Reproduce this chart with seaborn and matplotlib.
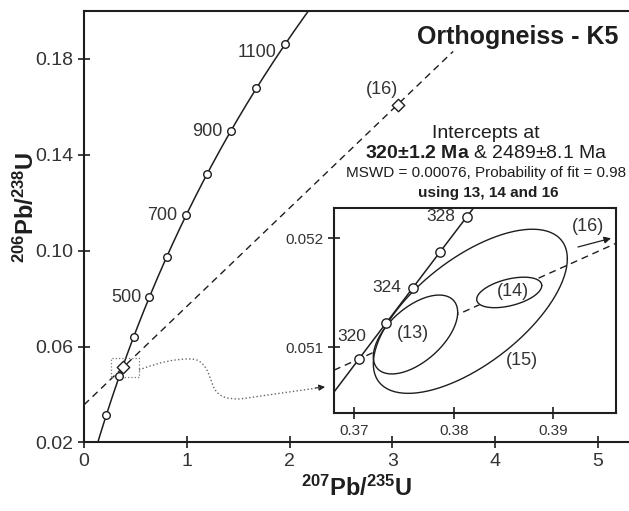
import numpy as np
import matplotlib
matplotlib.use("Agg")
import matplotlib.pyplot as plt
import seaborn as sns
from matplotlib.path import Path
from matplotlib.patches import PathPatch, Rectangle

# decay constants (1/yr)
L238 = 1.55125e-10
L235 = 9.8485e-10

# concordia age marks (Ma)
main_ages = [200, 300, 400, 500, 600, 700, 800, 900, 1000, 1100]
main_labels = [500, 700, 900, 1100]
inset_ages = [320, 322, 324, 326, 328]
inset_labels = [320, 324, 328]

# intercepts (Ma)
lower_int = 320
upper_int = 2489

# analyses: x(207/235), y(206/238), half-width x, half-height y, rho
ell_names = ["(13)", "(14)", "(15)"]
ell_cx = [0.37615, 0.38557, 0.38166]
ell_cy = [0.051117, 0.051503, 0.05133]
ell_hx = [0.00424, 0.00327, 0.00975]
ell_hy = [0.000362, 0.000140, 0.000753]
ell_rho = [0.56, 0.45, 0.64]
ell_fill = [True, True, False]

spot16 = (3.054, 0.1609)


def conc(t_ma):
    t = np.asarray(t_ma, dtype=float) * 1e6
    return np.exp(L235 * t) - 1, np.exp(L238 * t) - 1


def ellipse(cx, cy, hx, hy, rho, n=200):
    a = np.linspace(0, 2 * np.pi, n)
    x = cx + hx * np.cos(a)
    y = cy + hy * (rho * np.cos(a) + np.sqrt(1 - rho ** 2) * np.sin(a))
    return x, y


sns.set_theme(style="ticks")
plt.rcParams["font.family"] = ["Liberation Sans", "DejaVu Sans"]
plt.rcParams["mathtext.fontset"] = "custom"
plt.rcParams["mathtext.rm"] = "Liberation Sans"
plt.rcParams["mathtext.bf"] = "Liberation Sans:bold"
plt.rcParams["mathtext.it"] = "Liberation Sans:italic"

ink = "#1e1e1e"
W, H = 629, 511
fig = plt.figure(figsize=(W / 100, H / 100), dpi=100)

# ---------------- main axes
ax = fig.add_axes([84 / W, 1 - 442.4 / H, 545 / W, 431.4 / H])
ax.set_xlim(0, 5.30)
ax.set_ylim(0.02, 0.20)
ax.set_xticks([0, 1, 2, 3, 4, 5])
ax.set_yticks([0.02, 0.06, 0.10, 0.14, 0.18])
ax.set_yticklabels(["0.02", "0.06", "0.10", "0.14", "0.18"])
ax.tick_params(direction="inout", length=9, width=1.2, colors=ink,
               labelsize=14, labelcolor="#333333", pad=3)
for s in ["left", "bottom", "top"]:
    ax.spines[s].set_linewidth(1.5)
    ax.spines[s].set_color(ink)
ax.spines["right"].set_visible(False)

cx_all, cy_all = conc(np.linspace(100, 1300, 400))
sns.lineplot(x=cx_all, y=cy_all, ax=ax, sort=False, estimator=None,
             color=ink, lw=1.1, zorder=3)
mx, my = conc(main_ages)
sns.scatterplot(x=mx, y=my, ax=ax, s=30, color="white", edgecolor=ink,
                linewidth=1.0, zorder=5)
for age in main_labels:
    px, py = conc(age)
    dy = -6 if age == 1100 else 0
    ax.annotate(str(age), (px, py), xytext=(-6, dy), textcoords="offset points",
                ha="right", va="center", fontsize=13, color="#333333")

# discordia
x0, y0 = conc(lower_int)
x1, y1 = conc(upper_int)
slope = (y1 - y0) / (x1 - x0)
dx = np.array([0.0, 3.59])
ax.plot(dx, y0 + slope * (dx - x0), color=ink, lw=1.0, ls=(0, (5, 3.5)), zorder=2)

ax.scatter([spot16[0]], [spot16[1]], marker="D", s=40, facecolor="white",
           edgecolor=ink, linewidth=1.0, zorder=6)
ax.text(2.896, 0.1671, "(16)", fontsize=13, ha="center", va="center", color="#333333")
ax.scatter([ell_cx[2]], [ell_cy[2]], marker="D", s=40, facecolor="white",
           edgecolor=ink, linewidth=1.0, zorder=6)

ax.add_patch(Rectangle((0.263, 0.0472), 0.269, 0.0079, fill=False,
                       ls=":", lw=0.9, ec="#777777", zorder=4))
verts = [(0.535, 0.05023), (0.739, 0.05357), (0.885, 0.05482), (1.031, 0.05482),
         (1.177, 0.05482), (1.206, 0.04939), (1.255, 0.04355),
         (1.304, 0.03854), (1.401, 0.03812), (1.518, 0.03812),
         (2.300, 0.04290)]
codes = [Path.MOVETO, Path.CURVE4, Path.CURVE4, Path.CURVE4,
         Path.CURVE4, Path.CURVE4, Path.CURVE4,
         Path.CURVE4, Path.CURVE4, Path.CURVE4, Path.LINETO]
ax.add_patch(PathPatch(Path(verts, codes), fill=False, ls=":", lw=1.0,
                       ec="#666666", zorder=4))
ax.annotate("", xy=(2.344, 0.04313), xytext=(2.25, 0.04270),
            arrowprops=dict(arrowstyle="-|>", color=ink, lw=0.8,
                            mutation_scale=9, shrinkA=0, shrinkB=0))

ax.set_xlabel(r"$^{\mathbf{207}}\mathbf{Pb/}^{\mathbf{235}}\mathbf{U}$",
              fontsize=17, color=ink, labelpad=4)
ax.set_ylabel(r"$^{\mathbf{206}}\mathbf{Pb/}^{\mathbf{238}}\mathbf{U}$",
              fontsize=17, color=ink)
ax.yaxis.set_label_coords(-0.082, 0.545)

# ---------------- text block
fig.text(618 / W, 1 - 37 / H, "Orthogneiss - K5", fontsize=18, fontweight="bold",
         ha="right", va="center", color=ink)
fig.text(486 / W, 1 - 133 / H, "Intercepts at", fontsize=14, ha="center",
         va="center", color=ink)
fig.text(486 / W, 1 - 154 / H, r"$\mathbf{320{\pm}1.2\ Ma}$ & 2489±8.1 Ma",
         fontsize=14, ha="center", va="center", color=ink)
fig.text(486 / W, 1 - 173 / H, "MSWD = 0.00076, Probability of fit = 0.98",
         fontsize=11, ha="center", va="center", color=ink)
fig.text(488 / W, 1 - 192.5 / H, "using 13, 14 and 16", fontsize=11,
         fontweight="bold", ha="center", va="center", color=ink)

# ---------------- inset
ins = fig.add_axes([334 / W, 1 - 413.3 / H, 282 / W, 205 / H])
ins.set_xlim(0.36796, 0.3963)
ins.set_ylim(0.050394, 0.052275)
ins.set_xticks([0.37, 0.38, 0.39])
ins.set_xticklabels(["0.37", "0.38", "0.39"])
ins.set_yticks([0.051, 0.052])
ins.set_yticklabels(["0.051", "0.052"])
ins.tick_params(direction="inout", length=9, width=1.2, colors=ink,
                labelsize=11, labelcolor="#333333", pad=3)
for s in ins.spines.values():
    s.set_linewidth(1.5)
    s.set_color(ink)

ix_all, iy_all = conc(np.linspace(316, 332, 200))
sns.lineplot(x=ix_all, y=iy_all, ax=ins, sort=False, estimator=None,
             color=ink, lw=1.1, zorder=4)
ix, iy = conc(inset_ages)
sns.scatterplot(x=ix, y=iy, ax=ins, s=45, color="white", edgecolor=ink,
                linewidth=1.0, zorder=6)
for age in inset_labels:
    px, py = conc(age)
    if age == 320:
        ins.annotate(str(age), (px, py), xytext=(-5, 16), textcoords="offset points",
                     ha="center", va="center", fontsize=12.5, color="#333333")
    else:
        ins.annotate(str(age), (px, py), xytext=(-8, 0), textcoords="offset points",
                     ha="right", va="center", fontsize=12.5, color="#333333")

idx = np.array([0.36796, 0.3963])
ins.plot(idx, y0 + slope * (idx - x0), color=ink, lw=1.0, ls=(0, (5, 3.5)), zorder=2)

for i in range(len(ell_names)):
    ex, ey = ellipse(ell_cx[i], ell_cy[i], ell_hx[i], ell_hy[i], ell_rho[i])
    if ell_fill[i]:
        ins.fill(ex, ey, color="white", zorder=3)
    ins.plot(ex, ey, color=ink, lw=1.0, zorder=3)

ins.text(0.37593, 0.051128, "(13)", fontsize=13, ha="center", va="center",
         color="#333333", zorder=5)
ins.text(0.38592, 0.05151, "(14)", fontsize=13, ha="center", va="center",
         color="#333333", zorder=5)
ins.text(0.38689, 0.050877, "(15)", fontsize=13, ha="center", va="center",
         color="#333333", zorder=5)
ins.text(0.39352, 0.052106, "(16)", fontsize=13, ha="center", va="center",
         color="#333333", zorder=5)
ins.annotate("", xy=(0.39580, 0.05200), xytext=(0.39248, 0.05192),
             arrowprops=dict(arrowstyle="-|>", color=ink, lw=0.9,
                             mutation_scale=10, shrinkA=0, shrinkB=0))

fig.savefig("out.png", dpi=100)
